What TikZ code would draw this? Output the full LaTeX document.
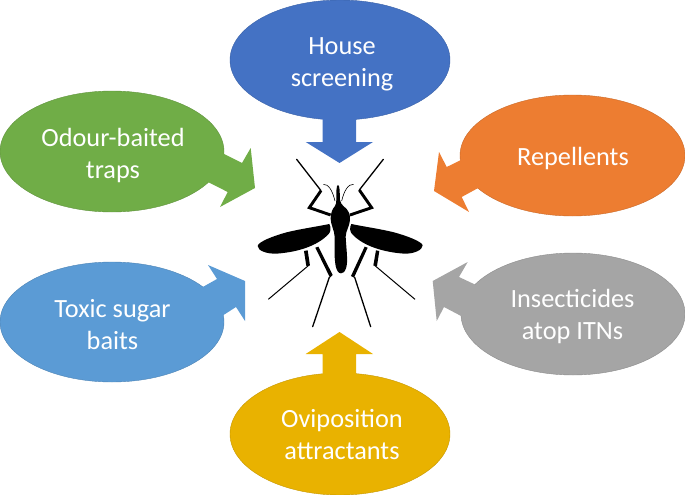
\documentclass[tikz,border=0pt]{standalone}
\usepackage{fontspec}
\setmainfont{Carlito}
\usetikzlibrary{shapes.geometric}
\definecolor{cBlue}{HTML}{4472C4}
\definecolor{cOrange}{HTML}{ED7D31}
\definecolor{cGrey}{HTML}{A5A5A5}
\definecolor{cYellow}{HTML}{E9B200}
\definecolor{cGreen}{HTML}{70AD47}
\definecolor{cSky}{HTML}{5B9BD5}
\tikzset{
  bubble/.style={ellipse,inner sep=0pt,fill=#1,draw=#1!85!black,line width=0.4pt},
  bubbletext/.style={inner sep=0pt,text=white,align=center,font=\fontsize{26.3pt}{32pt}\selectfont},
  pointer/.style={fill=#1,draw=none},
  thinleg/.style={draw=black,line width=1.3pt,line cap=round},
  thickleg/.style={draw=black,line width=2.9pt,line join=miter},
}
\begin{document}
\begin{tikzpicture}[x=1pt,y=-1pt]
\useasboundingbox (0,0) rectangle (685,495);
% bubbles
\node[bubble=cBlue,minimum width=220pt,minimum height=120pt] (house) at (340,60) {};
\node[bubble=cGreen,minimum width=224pt,minimum height=121pt] (odour) at (112,151.5) {};
\node[bubble=cOrange,minimum width=225pt,minimum height=121pt] (rep) at (572.5,155.5) {};
\node[bubble=cSky,minimum width=224pt,minimum height=120pt] (toxic) at (112,322) {};
\node[bubble=cGrey,minimum width=224pt,minimum height=122pt] (insect) at (573,314) {};
\node[bubble=cYellow,minimum width=220pt,minimum height=122pt] (ovi) at (340,434) {};
% arrows
\fill[pointer=cBlue] (322.7,118) -- (322.7,142) -- (305.7,142) -- (339.5,163) -- (373,142) -- (356,142) -- (356,118) -- cycle;
\fill[pointer=cYellow] (322.7,376) -- (322.7,354) -- (305.7,354) -- (339.5,332) -- (373,354) -- (356,354) -- (356,376) -- cycle;
\fill[pointer=cGreen] (222,153) -- (242,163) -- (250.7,148) -- (255,188) -- (220,207) -- (227.7,192) -- (206,181) -- cycle;
\fill[pointer=cSky] (201,288) -- (217,279) -- (208,265) -- (245,281) -- (245,321) -- (236,307) -- (222,316) -- cycle;
\fill[pointer=cOrange] (463,159) -- (446.7,167) -- (439,152) -- (434,191) -- (469,212) -- (461.7,197) -- (480,187) -- cycle;
\fill[pointer=cGrey] (476,285) -- (459,277) -- (467.7,262) -- (432.7,281) -- (436.7,321) -- (444,307) -- (463,317) -- cycle;
% labels
\node[bubbletext] (houseT) at ([xshift=2pt,yshift=-4pt]house.center) {House\\screening};
\node[bubbletext] (odourT) at ([xshift=1pt,yshift=-3.5pt]odour.center) {Odour-baited\\traps};
\node[bubbletext] (repT) at ([xshift=0.5pt,yshift=-3pt]rep.center) {Repellents};
\node[bubbletext] (toxicT) at ([xshift=0.5pt,yshift=-2.5pt]toxic.center) {Toxic sugar\\baits};
\node[bubbletext] (insectT) at ([xshift=-0.5pt,yshift=-2pt]insect.center) {Insecticides\\atop ITNs};
\node[bubbletext] (oviT) at ([xshift=2pt,yshift=-0.5pt]ovi.center) {Oviposition\\attractants};
% mosquito
\begin{scope}[shift={(240,140)},x=0.3333pt,y=-0.3333pt]
  \fill[black] (294,135) .. controls (299,137) and (299,150) .. (300,180)
     .. controls (302,190) and (305,192) .. (310,198)
     .. controls (325,208) and (332,225) .. (330,240)
     .. controls (328,262) and (318,270) .. (317,290)
     .. controls (319,330) and (325,365) .. (318,385)
     .. controls (314,397) and (308,400) .. (303,400)
     .. controls (296,400) and (290,392) .. (287,378)
     .. controls (282,350) and (284,320) .. (284,290)
     .. controls (283,270) and (273,258) .. (272,235)
     .. controls (272,218) and (278,206) .. (285,198)
     .. controls (288,192) and (289,188) .. (289,180)
     .. controls (289,150) and (289,137) .. (294,135) -- cycle;
  \fill[black] (268,252) .. controls (274,262) and (272,276) .. (266,282)
     .. controls (240,310) and (190,335) .. (110,341)
     .. controls (80,342) and (53,332) .. (53,318)
     .. controls (55,305) and (100,288) .. (140,277)
     .. controls (180,267) and (230,260) .. (268,252) -- cycle;
  \fill[black] (334,252) .. controls (328,262) and (330,276) .. (336,282)
     .. controls (362,310) and (412,335) .. (492,341)
     .. controls (522,342) and (548,330) .. (548,316)
     .. controls (546,305) and (502,288) .. (462,277)
     .. controls (422,267) and (372,260) .. (334,252) -- cycle;
  % front legs
  \draw[thinleg] (170,58) -- (243,152);
  \draw[thinleg] (430,58) -- (358,150);
  \draw[thickleg] (243,152) -- (208,203) -- (272,225);
  \draw[thickleg] (358,150) -- (395,203) -- (330,225);
  % antennae
  \draw[black,line width=0.6pt] (285,183) .. controls (277,150) and (265,132) .. (250,133);
  \draw[black,line width=0.6pt] (305,183) .. controls (313,150) and (325,132) .. (341,133);
  % middle legs
  \fill[black] (192,333) -- (203,331) -- (210,377) -- (199,378) -- cycle;
  \fill[black] (408,331) -- (418,333) -- (411,378) -- (400,377) -- cycle;
  \draw[black,line width=1pt] (205,377) -- (85,478);
  \draw[black,line width=1pt] (405,377) -- (525,478);
  % hind legs
  \fill[black] (226,323) -- (235,320) -- (278,405) -- (270,413) -- cycle;
  \fill[black] (374,320) -- (383,323) -- (342,413) -- (333,408) -- cycle;
  \draw[thinleg] (268,412) -- (218,560);
  \draw[thinleg] (344,412) -- (392,560);
\end{scope}
\end{tikzpicture}
\end{document}
